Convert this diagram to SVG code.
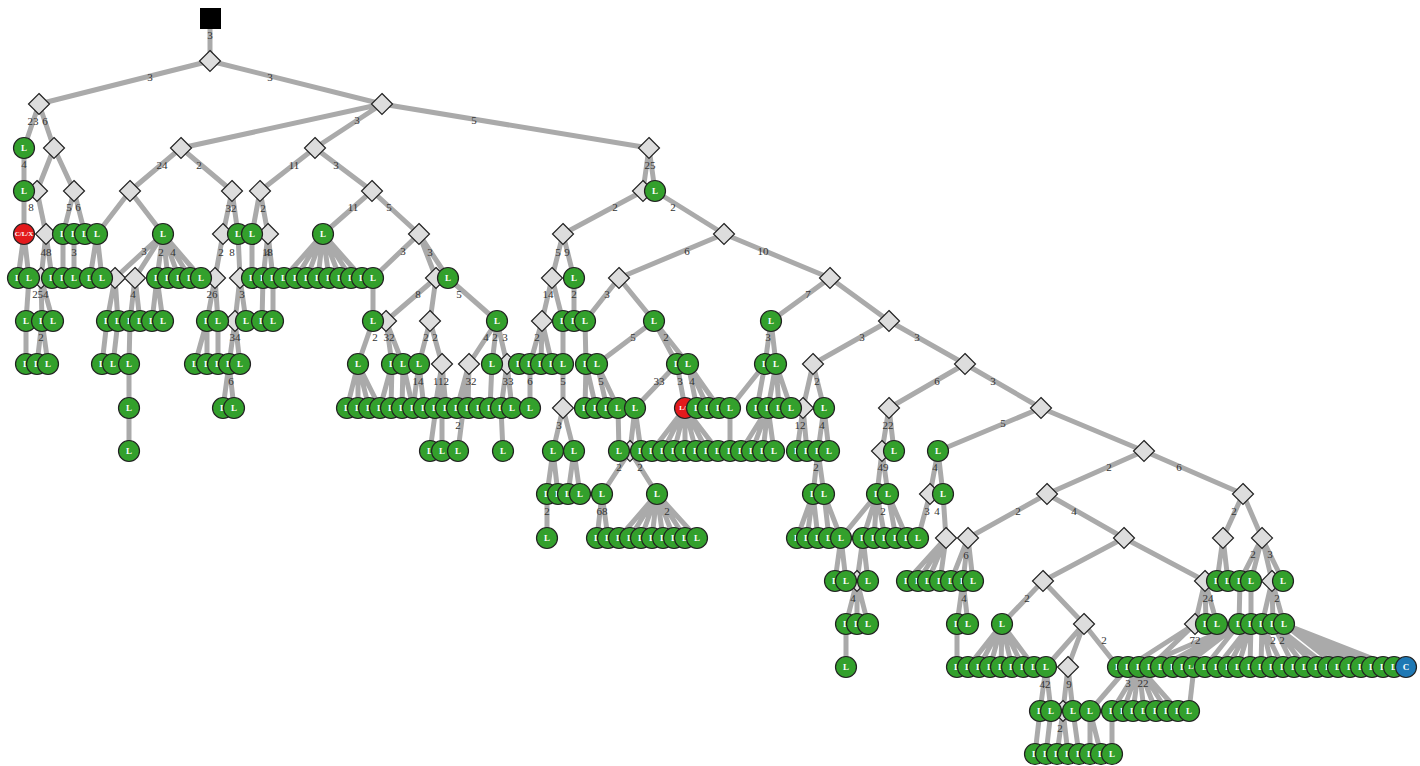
<svg xmlns="http://www.w3.org/2000/svg" xmlns:xlink="http://www.w3.org/1999/xlink" width="1420" height="766" viewBox="0 0 1420 766">
<style>
.e path{stroke:#aaaaaa;stroke-width:5;fill:none}
.d{fill:#dddddd;stroke:#222222;stroke-width:1.2}
.nd circle{stroke:#222222;stroke-width:1.2;fill:#33a02c}
.nd circle.r{fill:#e31a1c}
.nd circle.b{fill:#1f78b4}
.nd text{font-family:"Liberation Serif",serif;font-size:9px;font-weight:bold;fill:#ffffff;text-anchor:middle;dominant-baseline:central}
.nd text.s{font-size:7px}
.lb text{font-family:"Liberation Serif",serif;font-size:11px;fill:#333333;text-anchor:middle;dominant-baseline:central}
</style>
<defs><path id="dm" d="M0,-10.5L10.5,0L0,10.5L-10.5,0Z"/></defs>
<rect width="1420" height="766" fill="#ffffff"/>
<g id="connectors" class="e">
<path d="M210 18L210 61"/>
<path d="M210 61L39 104M210 61L382 104"/>
<path d="M39 104L24 148M39 104L54 148"/>
<path d="M382 104L181 148M382 104L315 148M382 104L649 148"/>
<path d="M24 148L24 191"/>
<path d="M54 148L37 191M54 148L74 191"/>
<path d="M181 148L130 191M181 148L232 191"/>
<path d="M315 148L260 191M315 148L372 191"/>
<path d="M649 148L643 191M649 148L655 191"/>
<path d="M24 191L24 234"/>
<path d="M37 191L46 234"/>
<path d="M74 191L63 234M74 191L85 234"/>
<path d="M130 191L97 234M130 191L163 234"/>
<path d="M232 191L223 234M232 191L238 234"/>
<path d="M260 191L252 234M260 191L268 234"/>
<path d="M372 191L323 234M372 191L419 234"/>
<path d="M643 191L563 234"/>
<path d="M655 191L724 234"/>
<path d="M24 234L18 278M24 234L29 278"/>
<path d="M46 234L41 278M46 234L52 278"/>
<path d="M63 234L63 278M74 234L74 278"/>
<path d="M97 234L90 278M97 234L102 278"/>
<path d="M163 234L115 278M163 234L135 278M163 234L157 278M163 234L168 278M163 234L179 278M163 234L190 278M163 234L201 278"/>
<path d="M223 234L215 278M238 234L240 278M252 234L252 278"/>
<path d="M268 234L263 278M268 234L273 278"/>
<path d="M323 234L284 278M323 234L296 278M323 234L307 278M323 234L318 278M323 234L329 278M323 234L340 278M323 234L351 278M323 234L362 278"/>
<path d="M419 234L373 278M419 234L436 278M419 234L448 278"/>
<path d="M563 234L552 278M563 234L574 278"/>
<path d="M724 234L619 278M724 234L830 278"/>
<path d="M29 278L26 321"/>
<path d="M41 278L42 321M41 278L53 321"/>
<path d="M115 278L107 321M115 278L118 321"/>
<path d="M135 278L130 321M135 278L140 321"/>
<path d="M157 278L152 321M157 278L163 321"/>
<path d="M215 278L207 321M215 278L218 321"/>
<path d="M240 278L235 321M240 278L246 321"/>
<path d="M263 278L262 321M273 278L273 321M373 278L373 321"/>
<path d="M436 278L386 321M436 278L430 321"/>
<path d="M448 278L497 321"/>
<path d="M552 278L542 321M552 278L563 321"/>
<path d="M574 278L574 321"/>
<path d="M619 278L585 321M619 278L654 321"/>
<path d="M830 278L771 321M830 278L889 321"/>
<path d="M26 321L26 364M42 321L37 364M42 321L48 364M107 321L102 364M118 321L113 364M130 321L129 364"/>
<path d="M207 321L195 364M207 321L207 364M218 321L218 364"/>
<path d="M235 321L229 364M235 321L240 364"/>
<path d="M373 321L358 364"/>
<path d="M386 321L392 364M386 321L403 364"/>
<path d="M430 321L419 364M430 321L442 364"/>
<path d="M497 321L469 364M497 321L492 364M497 321L507 364"/>
<path d="M542 321L530 364M542 321L541 364M542 321L552 364"/>
<path d="M563 321L563 408M585 321L586 364"/>
<path d="M654 321L597 364M654 321L677 364M654 321L688 364"/>
<path d="M771 321L765 364M771 321L776 364"/>
<path d="M889 321L813 364M889 321L965 364"/>
<path d="M129 364L129 408M129 408L129 451"/>
<path d="M229 364L223 408M229 364L234 408"/>
<path d="M358 364L347 408M358 364L358 408M358 364L369 408M358 364L380 408"/>
<path d="M392 364L380 408M392 364L391 408M403 364L402 408M403 364L413 408"/>
<path d="M419 364L413 408M419 364L424 408"/>
<path d="M442 364L435 408M442 364L446 408M442 364L430 451M442 364L442 451"/>
<path d="M469 364L457 408M469 364L468 408M469 364L458 451"/>
<path d="M492 364L490 408M507 364L501 408M507 364L512 408M501 408L503 451"/>
<path d="M530 364L530 408"/>
<path d="M586 364L585 408M586 364L596 408M597 364L607 408M597 364L618 408"/>
<path d="M677 364L635 408M677 364L685 408"/>
<path d="M688 364L697 408M688 364L708 408M688 364L719 408"/>
<path d="M765 364L730 408M765 364L757 408M776 364L768 408M776 364L779 408M776 364L791 408"/>
<path d="M813 364L803 408M813 364L824 408"/>
<path d="M965 364L889 408M965 364L1041 408"/>
<path d="M563 408L553 451M563 408L574 451"/>
<path d="M618 408L619 451M635 408L630 451M635 408L641 451"/>
<path d="M685 408L652 451M685 408L663 451M685 408L674 451M685 408L685 451M685 408L696 451M685 408L707 451M685 408L718 451"/>
<path d="M730 408L730 451"/>
<path d="M768 408L741 451M768 408L752 451M768 408L763 451M768 408L774 451"/>
<path d="M803 408L797 451M803 408L807 451M824 408L818 451M824 408L829 451"/>
<path d="M889 408L882 451M889 408L894 451"/>
<path d="M1041 408L938 451M1041 408L1144 451"/>
<path d="M553 451L547 494M553 451L558 494M574 451L568 494M574 451L580 494"/>
<path d="M630 451L602 494M630 451L657 494"/>
<path d="M818 451L813 494M818 451L824 494"/>
<path d="M882 451L877 494M882 451L888 494"/>
<path d="M938 451L930 494M938 451L943 494"/>
<path d="M1144 451L1047 494M1144 451L1243 494"/>
<path d="M547 494L547 538M602 494L597 538M602 494L608 538"/>
<path d="M657 494L619 538M657 494L630 538M657 494L641 538M657 494L652 538M657 494L663 538M657 494L674 538M657 494L685 538M657 494L697 538"/>
<path d="M813 494L797 538M813 494L807 538M813 494L818 538M824 494L829 538M824 494L841 538"/>
<path d="M877 494L841 538M877 494L863 538M877 494L874 538M877 494L885 538M888 494L896 538M888 494L907 538"/>
<path d="M930 494L918 538M943 494L946 538"/>
<path d="M1047 494L968 538M1047 494L1124 538"/>
<path d="M1243 494L1223 538M1243 494L1262 538"/>
<path d="M841 538L835 581M841 538L846 581M863 538L857 581M863 538L868 581"/>
<path d="M946 538L907 581M946 538L918 581M946 538L928 581M946 538L940 581"/>
<path d="M968 538L951 581M968 538L963 581M968 538L973 581"/>
<path d="M1124 538L1043 581M1124 538L1205 581"/>
<path d="M1223 538L1217 581M1223 538L1228 581"/>
<path d="M1262 538L1240 581M1262 538L1251 581M1262 538L1272 581M1262 538L1283 581"/>
<path d="M857 581L846 624M857 581L857 624M857 581L868 624"/>
<path d="M963 581L957 624M963 581L968 624"/>
<path d="M1043 581L1002 624M1043 581L1084 624"/>
<path d="M1205 581L1195 624M1205 581L1206 624M1205 581L1217 624"/>
<path d="M1240 581L1239 624M1251 581L1251 624"/>
<path d="M1272 581L1262 624M1272 581L1273 624M1272 581L1284 624"/>
<path d="M846 624L846 667M957 624L957 667"/>
<path d="M1002 624L968 667M1002 624L979 667M1002 624L990 667M1002 624L1001 667M1002 624L1012 667M1002 624L1023 667M1002 624L1034 667"/>
<path d="M1084 624L1046 667M1084 624L1068 667M1084 624L1118 667"/>
<path d="M1195 624L1128 667M1195 624L1150 667"/>
<path d="M1239 624L1139 667M1239 624L1161 667M1239 624L1173 667M1239 624L1183 667M1239 624L1205 667"/>
<path d="M1251 624L1217 667M1251 624L1228 667M1251 624L1238 667M1251 624L1250 667"/>
<path d="M1262 624L1261 667M1262 624L1272 667M1262 624L1283 667"/>
<path d="M1273 624L1294 667M1273 624L1305 667M1273 624L1317 667M1273 624L1328 667"/>
<path d="M1284 624L1338 667M1284 624L1350 667M1284 624L1361 667M1284 624L1372 667M1284 624L1383 667M1284 624L1394 667"/>
<path d="M1046 667L1040 711M1046 667L1051 711M1068 667L1063 711M1068 667L1073 711"/>
<path d="M1128 667L1090 711"/>
<path d="M1139 667L1112 711M1139 667L1123 711M1139 667L1133 711M1139 667L1144 711M1139 667L1156 711M1139 667L1167 711M1139 667L1178 711"/>
<path d="M1194 667L1189 711"/>
<path d="M1040 711L1035 754M1051 711L1046 754M1063 711L1057 754M1063 711L1068 754M1073 711L1079 754M1090 711L1090 754M1090 711L1101 754M1112 711L1112 754"/>
</g>
<g id="labels" class="lb">
<text x="210" y="35">3</text>
<text x="150" y="77">3</text><text x="270" y="77">3</text>
<text x="33" y="121">23</text><text x="45" y="121">6</text>
<text x="357" y="120">3</text><text x="474" y="120">5</text>
<text x="24" y="164">4</text><text x="162" y="165">24</text><text x="199" y="165">2</text>
<text x="294" y="165">11</text><text x="336" y="165">3</text><text x="650" y="165">25</text>
<text x="31" y="207">8</text><text x="69" y="207">5</text><text x="78" y="207">6</text>
<text x="231" y="208">32</text><text x="263" y="208">2</text>
<text x="353" y="207">11</text><text x="389" y="207">5</text>
<text x="615" y="207">2</text><text x="673" y="207">2</text>
<text x="46" y="252">48</text><text x="74" y="252">3</text>
<text x="144" y="251">3</text><text x="161" y="252">2</text><text x="173" y="252">4</text>
<text x="221" y="252">2</text><text x="232" y="252">8</text>
<text x="266" y="252" letter-spacing="-3">148</text>
<text x="403" y="251">3</text><text x="430" y="252">3</text>
<text x="558" y="252">5</text><text x="567" y="252">9</text>
<text x="687" y="251">6</text><text x="763" y="251">10</text>
<text x="35" y="294">2</text><text x="43" y="294">54</text>
<text x="133" y="294">4</text><text x="212" y="294">26</text><text x="242" y="294">3</text>
<text x="418" y="294">8</text><text x="459" y="294">5</text>
<text x="548" y="294">14</text><text x="574" y="294">2</text><text x="607" y="294">3</text>
<text x="808" y="294">7</text>
<text x="41" y="337">2</text><text x="235" y="337">34</text>
<text x="375" y="337">2</text><text x="389" y="337">32</text>
<text x="426" y="337">2</text><text x="435" y="337">2</text>
<text x="486" y="337">4</text><text x="495" y="337">2</text><text x="505" y="337">3</text>
<text x="537" y="337">2</text><text x="633" y="337">5</text><text x="666" y="337">2</text>
<text x="768" y="337">3</text><text x="862" y="337">3</text><text x="917" y="337">3</text>
<text x="231" y="381">6</text><text x="418" y="381">14</text><text x="441" y="381">112</text>
<text x="471" y="381">32</text><text x="508" y="381">33</text><text x="530" y="381">6</text>
<text x="563" y="381">5</text><text x="601" y="381">5</text>
<text x="659" y="381">33</text><text x="680" y="381">3</text><text x="692" y="381">4</text>
<text x="817" y="381">2</text><text x="937" y="381">6</text><text x="993" y="381">3</text>
<text x="458" y="425">2</text><text x="559" y="425">3</text>
<text x="800" y="425">12</text><text x="822" y="425">4</text><text x="888" y="425">22</text>
<text x="1003" y="423">5</text>
<text x="619" y="467">2</text><text x="640" y="467">2</text>
<text x="816" y="467">2</text><text x="883" y="467">49</text><text x="935" y="467">4</text>
<text x="1109" y="467">2</text><text x="1179" y="467">6</text>
<text x="547" y="511">2</text><text x="602" y="511">68</text><text x="667" y="511">2</text>
<text x="883" y="511">2</text><text x="927" y="511">3</text><text x="937" y="511">4</text>
<text x="1018" y="511">2</text><text x="1074" y="511">4</text><text x="1234" y="511">2</text>
<text x="966" y="555">6</text><text x="1253" y="554">2</text><text x="1270" y="554">3</text>
<text x="853" y="598">4</text><text x="964" y="598">4</text><text x="1027" y="598">2</text>
<text x="1208" y="598">24</text><text x="1277" y="598">2</text>
<text x="1104" y="640">2</text><text x="1195" y="640">72</text>
<text x="1273" y="640">2</text><text x="1282" y="640">2</text>
<text x="1045" y="684">42</text><text x="1069" y="684">9</text>
<text x="1128" y="683">3</text><text x="1143" y="683">22</text>
<text x="1060" y="728">2</text>
</g>
<g id="nodes" class="nd">
<g id="root"><rect x="200" y="8" width="21" height="21" fill="#000000"/></g>
<g id="d1" class="d"><use xlink:href="#dm" x="210" y="61"/></g>
<g id="d2" class="d"><use xlink:href="#dm" x="39" y="104"/></g>
<g id="d3" class="d"><use xlink:href="#dm" x="382" y="104"/></g>
<g id="d4" class="d"><use xlink:href="#dm" x="54" y="148"/></g>
<g id="d5" class="d"><use xlink:href="#dm" x="181" y="148"/></g>
<g id="d6" class="d"><use xlink:href="#dm" x="315" y="148"/></g>
<g id="d7" class="d"><use xlink:href="#dm" x="649" y="148"/></g>
<g id="d8" class="d"><use xlink:href="#dm" x="37" y="191"/></g>
<g id="d9" class="d"><use xlink:href="#dm" x="74" y="191"/></g>
<g id="d10" class="d"><use xlink:href="#dm" x="130" y="191"/></g>
<g id="d11" class="d"><use xlink:href="#dm" x="232" y="191"/></g>
<g id="d12" class="d"><use xlink:href="#dm" x="260" y="191"/></g>
<g id="d13" class="d"><use xlink:href="#dm" x="372" y="191"/></g>
<g id="d14" class="d"><use xlink:href="#dm" x="643" y="191"/></g>
<g id="d15" class="d"><use xlink:href="#dm" x="46" y="234"/></g>
<g id="d16" class="d"><use xlink:href="#dm" x="223" y="234"/></g>
<g id="d17" class="d"><use xlink:href="#dm" x="268" y="234"/></g>
<g id="d18" class="d"><use xlink:href="#dm" x="419" y="234"/></g>
<g id="d19" class="d"><use xlink:href="#dm" x="563" y="234"/></g>
<g id="d20" class="d"><use xlink:href="#dm" x="724" y="234"/></g>
<g id="d21" class="d"><use xlink:href="#dm" x="41" y="278"/></g>
<g id="d22" class="d"><use xlink:href="#dm" x="115" y="278"/></g>
<g id="d23" class="d"><use xlink:href="#dm" x="135" y="278"/></g>
<g id="d24" class="d"><use xlink:href="#dm" x="215" y="278"/></g>
<g id="d25" class="d"><use xlink:href="#dm" x="240" y="278"/></g>
<g id="d26" class="d"><use xlink:href="#dm" x="436" y="278"/></g>
<g id="d27" class="d"><use xlink:href="#dm" x="552" y="278"/></g>
<g id="d28" class="d"><use xlink:href="#dm" x="619" y="278"/></g>
<g id="d29" class="d"><use xlink:href="#dm" x="830" y="278"/></g>
<g id="d30" class="d"><use xlink:href="#dm" x="235" y="321"/></g>
<g id="d31" class="d"><use xlink:href="#dm" x="386" y="321"/></g>
<g id="d32" class="d"><use xlink:href="#dm" x="430" y="321"/></g>
<g id="d33" class="d"><use xlink:href="#dm" x="542" y="321"/></g>
<g id="d34" class="d"><use xlink:href="#dm" x="889" y="321"/></g>
<g id="d35" class="d"><use xlink:href="#dm" x="442" y="364"/></g>
<g id="d36" class="d"><use xlink:href="#dm" x="469" y="364"/></g>
<g id="d37" class="d"><use xlink:href="#dm" x="507" y="364"/></g>
<g id="d38" class="d"><use xlink:href="#dm" x="813" y="364"/></g>
<g id="d39" class="d"><use xlink:href="#dm" x="965" y="364"/></g>
<g id="d40" class="d"><use xlink:href="#dm" x="563" y="408"/></g>
<g id="d41" class="d"><use xlink:href="#dm" x="803" y="408"/></g>
<g id="d42" class="d"><use xlink:href="#dm" x="889" y="408"/></g>
<g id="d43" class="d"><use xlink:href="#dm" x="1041" y="408"/></g>
<g id="d44" class="d"><use xlink:href="#dm" x="630" y="451"/></g>
<g id="d45" class="d"><use xlink:href="#dm" x="882" y="451"/></g>
<g id="d46" class="d"><use xlink:href="#dm" x="1144" y="451"/></g>
<g id="d47" class="d"><use xlink:href="#dm" x="930" y="494"/></g>
<g id="d48" class="d"><use xlink:href="#dm" x="1047" y="494"/></g>
<g id="d49" class="d"><use xlink:href="#dm" x="1243" y="494"/></g>
<g id="d50" class="d"><use xlink:href="#dm" x="946" y="538"/></g>
<g id="d51" class="d"><use xlink:href="#dm" x="968" y="538"/></g>
<g id="d52" class="d"><use xlink:href="#dm" x="1124" y="538"/></g>
<g id="d53" class="d"><use xlink:href="#dm" x="1223" y="538"/></g>
<g id="d54" class="d"><use xlink:href="#dm" x="1262" y="538"/></g>
<g id="d55" class="d"><use xlink:href="#dm" x="857" y="581"/></g>
<g id="d56" class="d"><use xlink:href="#dm" x="1043" y="581"/></g>
<g id="d57" class="d"><use xlink:href="#dm" x="1205" y="581"/></g>
<g id="d58" class="d"><use xlink:href="#dm" x="1272" y="581"/></g>
<g id="d59" class="d"><use xlink:href="#dm" x="1084" y="624"/></g>
<g id="d60" class="d"><use xlink:href="#dm" x="1195" y="624"/></g>
<g id="d61" class="d"><use xlink:href="#dm" x="1068" y="667"/></g>
<g id="d62" class="d"><use xlink:href="#dm" x="1063" y="711"/></g>
<g id="c3a"><circle cx="24" cy="148" r="10.5"/><text x="24" y="148">L</text></g>
<g id="c4a"><circle cx="24" cy="191" r="10.5"/><text x="24" y="191">L</text></g>
<g id="c4b"><circle cx="655" cy="191" r="10.5"/><text x="655" y="191">L</text></g>
<g id="c5a"><circle class="r" cx="24" cy="234" r="10.5"/><text class="s" x="24" y="234">C/L/X</text></g>
<g id="c5b"><circle cx="63" cy="234" r="10.5"/><text x="63" y="234">L</text></g>
<g id="c5c"><circle cx="74" cy="234" r="10.5"/><text x="74" y="234">L</text></g>
<g id="c5d"><circle cx="85" cy="234" r="10.5"/><text x="85" y="234">L</text></g>
<g id="c5e"><circle cx="97" cy="234" r="10.5"/><text x="97" y="234">L</text></g>
<g id="c5f"><circle cx="163" cy="234" r="10.5"/><text x="163" y="234">L</text></g>
<g id="c5g"><circle cx="238" cy="234" r="10.5"/><text x="238" y="234">L</text></g>
<g id="c5h"><circle cx="252" cy="234" r="10.5"/><text x="252" y="234">L</text></g>
<g id="c5i"><circle cx="323" cy="234" r="10.5"/><text x="323" y="234">L</text></g>
<g id="c6a"><circle cx="18" cy="278" r="10.5"/><text x="18" y="278">L</text></g>
<g id="c6b"><circle cx="29" cy="278" r="10.5"/><text x="29" y="278">L</text></g>
<g id="c6c"><circle cx="52" cy="278" r="10.5"/><text x="52" y="278">L</text></g>
<g id="c6d"><circle cx="63" cy="278" r="10.5"/><text x="63" y="278">L</text></g>
<g id="c6e"><circle cx="74" cy="278" r="10.5"/><text x="74" y="278">L</text></g>
<g id="c6f"><circle cx="90" cy="278" r="10.5"/><text x="90" y="278">L</text></g>
<g id="c6g"><circle cx="102" cy="278" r="10.5"/><text x="102" y="278">L</text></g>
<g id="c6h"><circle cx="157" cy="278" r="10.5"/><text x="157" y="278">L</text></g>
<g id="c6i"><circle cx="168" cy="278" r="10.5"/><text x="168" y="278">L</text></g>
<g id="c6j"><circle cx="179" cy="278" r="10.5"/><text x="179" y="278">L</text></g>
<g id="c6k"><circle cx="190" cy="278" r="10.5"/><text x="190" y="278">L</text></g>
<g id="c6l"><circle cx="201" cy="278" r="10.5"/><text x="201" y="278">L</text></g>
<g id="c6m"><circle cx="252" cy="278" r="10.5"/><text x="252" y="278">L</text></g>
<g id="c6n"><circle cx="263" cy="278" r="10.5"/><text x="263" y="278">L</text></g>
<g id="c6o"><circle cx="273" cy="278" r="10.5"/><text x="273" y="278">L</text></g>
<g id="c6p"><circle cx="284" cy="278" r="10.5"/><text x="284" y="278">L</text></g>
<g id="c6q"><circle cx="296" cy="278" r="10.5"/><text x="296" y="278">L</text></g>
<g id="c6r"><circle cx="307" cy="278" r="10.5"/><text x="307" y="278">L</text></g>
<g id="c6s"><circle cx="318" cy="278" r="10.5"/><text x="318" y="278">L</text></g>
<g id="c6t"><circle cx="329" cy="278" r="10.5"/><text x="329" y="278">L</text></g>
<g id="c6u"><circle cx="340" cy="278" r="10.5"/><text x="340" y="278">L</text></g>
<g id="c6v"><circle cx="351" cy="278" r="10.5"/><text x="351" y="278">L</text></g>
<g id="c6w"><circle cx="362" cy="278" r="10.5"/><text x="362" y="278">L</text></g>
<g id="c6x"><circle cx="373" cy="278" r="10.5"/><text x="373" y="278">L</text></g>
<g id="c6y"><circle cx="448" cy="278" r="10.5"/><text x="448" y="278">L</text></g>
<g id="c6z"><circle cx="574" cy="278" r="10.5"/><text x="574" y="278">L</text></g>
<g id="c7a"><circle cx="26" cy="321" r="10.5"/><text x="26" y="321">L</text></g>
<g id="c7b"><circle cx="42" cy="321" r="10.5"/><text x="42" y="321">L</text></g>
<g id="c7c"><circle cx="53" cy="321" r="10.5"/><text x="53" y="321">L</text></g>
<g id="c7d"><circle cx="107" cy="321" r="10.5"/><text x="107" y="321">L</text></g>
<g id="c7e"><circle cx="118" cy="321" r="10.5"/><text x="118" y="321">L</text></g>
<g id="c7f"><circle cx="130" cy="321" r="10.5"/><text x="130" y="321">L</text></g>
<g id="c7g"><circle cx="140" cy="321" r="10.5"/><text x="140" y="321">L</text></g>
<g id="c7h"><circle cx="152" cy="321" r="10.5"/><text x="152" y="321">L</text></g>
<g id="c7i"><circle cx="163" cy="321" r="10.5"/><text x="163" y="321">L</text></g>
<g id="c7j"><circle cx="207" cy="321" r="10.5"/><text x="207" y="321">L</text></g>
<g id="c7k"><circle cx="218" cy="321" r="10.5"/><text x="218" y="321">L</text></g>
<g id="c7l"><circle cx="246" cy="321" r="10.5"/><text x="246" y="321">L</text></g>
<g id="c7m"><circle cx="262" cy="321" r="10.5"/><text x="262" y="321">L</text></g>
<g id="c7n"><circle cx="273" cy="321" r="10.5"/><text x="273" y="321">L</text></g>
<g id="c7o"><circle cx="373" cy="321" r="10.5"/><text x="373" y="321">L</text></g>
<g id="c7p"><circle cx="497" cy="321" r="10.5"/><text x="497" y="321">L</text></g>
<g id="c7q"><circle cx="563" cy="321" r="10.5"/><text x="563" y="321">L</text></g>
<g id="c7r"><circle cx="574" cy="321" r="10.5"/><text x="574" y="321">L</text></g>
<g id="c7s"><circle cx="585" cy="321" r="10.5"/><text x="585" y="321">L</text></g>
<g id="c7t"><circle cx="654" cy="321" r="10.5"/><text x="654" y="321">L</text></g>
<g id="c7u"><circle cx="771" cy="321" r="10.5"/><text x="771" y="321">L</text></g>
<g id="c8a"><circle cx="26" cy="364" r="10.5"/><text x="26" y="364">L</text></g>
<g id="c8b"><circle cx="37" cy="364" r="10.5"/><text x="37" y="364">L</text></g>
<g id="c8c"><circle cx="48" cy="364" r="10.5"/><text x="48" y="364">L</text></g>
<g id="c8d"><circle cx="102" cy="364" r="10.5"/><text x="102" y="364">L</text></g>
<g id="c8e"><circle cx="113" cy="364" r="10.5"/><text x="113" y="364">L</text></g>
<g id="c8f"><circle cx="129" cy="364" r="10.5"/><text x="129" y="364">L</text></g>
<g id="c8g"><circle cx="195" cy="364" r="10.5"/><text x="195" y="364">L</text></g>
<g id="c8h"><circle cx="207" cy="364" r="10.5"/><text x="207" y="364">L</text></g>
<g id="c8i"><circle cx="218" cy="364" r="10.5"/><text x="218" y="364">L</text></g>
<g id="c8j"><circle cx="229" cy="364" r="10.5"/><text x="229" y="364">L</text></g>
<g id="c8k"><circle cx="240" cy="364" r="10.5"/><text x="240" y="364">L</text></g>
<g id="c8l"><circle cx="358" cy="364" r="10.5"/><text x="358" y="364">L</text></g>
<g id="c8m"><circle cx="392" cy="364" r="10.5"/><text x="392" y="364">L</text></g>
<g id="c8n"><circle cx="403" cy="364" r="10.5"/><text x="403" y="364">L</text></g>
<g id="c8o"><circle cx="419" cy="364" r="10.5"/><text x="419" y="364">L</text></g>
<g id="c8p"><circle cx="492" cy="364" r="10.5"/><text x="492" y="364">L</text></g>
<g id="c8q"><circle cx="519" cy="364" r="10.5"/><text x="519" y="364">L</text></g>
<g id="c8r"><circle cx="530" cy="364" r="10.5"/><text x="530" y="364">L</text></g>
<g id="c8s"><circle cx="541" cy="364" r="10.5"/><text x="541" y="364">L</text></g>
<g id="c8t"><circle cx="552" cy="364" r="10.5"/><text x="552" y="364">L</text></g>
<g id="c8u"><circle cx="563" cy="364" r="10.5"/><text x="563" y="364">L</text></g>
<g id="c8v"><circle cx="586" cy="364" r="10.5"/><text x="586" y="364">L</text></g>
<g id="c8w"><circle cx="597" cy="364" r="10.5"/><text x="597" y="364">L</text></g>
<g id="c8x"><circle cx="677" cy="364" r="10.5"/><text x="677" y="364">L</text></g>
<g id="c8y"><circle cx="688" cy="364" r="10.5"/><text x="688" y="364">L</text></g>
<g id="c8z"><circle cx="765" cy="364" r="10.5"/><text x="765" y="364">L</text></g>
<g id="c8z2"><circle cx="776" cy="364" r="10.5"/><text x="776" y="364">L</text></g>
<g id="c9a"><circle cx="129" cy="408" r="10.5"/><text x="129" y="408">L</text></g>
<g id="c9b"><circle cx="223" cy="408" r="10.5"/><text x="223" y="408">L</text></g>
<g id="c9c"><circle cx="234" cy="408" r="10.5"/><text x="234" y="408">L</text></g>
<g id="c9d"><circle cx="347" cy="408" r="10.5"/><text x="347" y="408">L</text></g>
<g id="c9e"><circle cx="358" cy="408" r="10.5"/><text x="358" y="408">L</text></g>
<g id="c9f"><circle cx="369" cy="408" r="10.5"/><text x="369" y="408">L</text></g>
<g id="c9g"><circle cx="380" cy="408" r="10.5"/><text x="380" y="408">L</text></g>
<g id="c9h"><circle cx="391" cy="408" r="10.5"/><text x="391" y="408">L</text></g>
<g id="c9i"><circle cx="402" cy="408" r="10.5"/><text x="402" y="408">L</text></g>
<g id="c9j"><circle cx="413" cy="408" r="10.5"/><text x="413" y="408">L</text></g>
<g id="c9k"><circle cx="424" cy="408" r="10.5"/><text x="424" y="408">L</text></g>
<g id="c9l"><circle cx="435" cy="408" r="10.5"/><text x="435" y="408">L</text></g>
<g id="c9m"><circle cx="446" cy="408" r="10.5"/><text x="446" y="408">L</text></g>
<g id="c9n"><circle cx="457" cy="408" r="10.5"/><text x="457" y="408">L</text></g>
<g id="c9o"><circle cx="468" cy="408" r="10.5"/><text x="468" y="408">L</text></g>
<g id="c9p"><circle cx="479" cy="408" r="10.5"/><text x="479" y="408">L</text></g>
<g id="c9q"><circle cx="490" cy="408" r="10.5"/><text x="490" y="408">L</text></g>
<g id="c9r"><circle cx="501" cy="408" r="10.5"/><text x="501" y="408">L</text></g>
<g id="c9s"><circle cx="512" cy="408" r="10.5"/><text x="512" y="408">L</text></g>
<g id="c9t"><circle cx="530" cy="408" r="10.5"/><text x="530" y="408">L</text></g>
<g id="c9u"><circle cx="585" cy="408" r="10.5"/><text x="585" y="408">L</text></g>
<g id="c9v"><circle cx="596" cy="408" r="10.5"/><text x="596" y="408">L</text></g>
<g id="c9w"><circle cx="607" cy="408" r="10.5"/><text x="607" y="408">L</text></g>
<g id="c9x"><circle cx="618" cy="408" r="10.5"/><text x="618" y="408">L</text></g>
<g id="c9y"><circle cx="635" cy="408" r="10.5"/><text x="635" y="408">L</text></g>
<g id="c9z"><circle class="r" cx="685" cy="408" r="10.5"/><text class="s" x="685" y="408">L/X</text></g>
<g id="c9A"><circle cx="697" cy="408" r="10.5"/><text x="697" y="408">L</text></g>
<g id="c9B"><circle cx="708" cy="408" r="10.5"/><text x="708" y="408">L</text></g>
<g id="c9C"><circle cx="719" cy="408" r="10.5"/><text x="719" y="408">L</text></g>
<g id="c9D"><circle cx="730" cy="408" r="10.5"/><text x="730" y="408">L</text></g>
<g id="c9E"><circle cx="757" cy="408" r="10.5"/><text x="757" y="408">L</text></g>
<g id="c9F"><circle cx="768" cy="408" r="10.5"/><text x="768" y="408">L</text></g>
<g id="c9G"><circle cx="779" cy="408" r="10.5"/><text x="779" y="408">L</text></g>
<g id="c9H"><circle cx="791" cy="408" r="10.5"/><text x="791" y="408">L</text></g>
<g id="c9I"><circle cx="824" cy="408" r="10.5"/><text x="824" y="408">L</text></g>
<g id="c10a"><circle cx="129" cy="451" r="10.5"/><text x="129" y="451">L</text></g>
<g id="c10b"><circle cx="430" cy="451" r="10.5"/><text x="430" y="451">L</text></g>
<g id="c10c"><circle cx="442" cy="451" r="10.5"/><text x="442" y="451">L</text></g>
<g id="c10d"><circle cx="458" cy="451" r="10.5"/><text x="458" y="451">L</text></g>
<g id="c10e"><circle cx="503" cy="451" r="10.5"/><text x="503" y="451">L</text></g>
<g id="c10f"><circle cx="553" cy="451" r="10.5"/><text x="553" y="451">L</text></g>
<g id="c10g"><circle cx="574" cy="451" r="10.5"/><text x="574" y="451">L</text></g>
<g id="c10h"><circle cx="619" cy="451" r="10.5"/><text x="619" y="451">L</text></g>
<g id="c10i"><circle cx="641" cy="451" r="10.5"/><text x="641" y="451">L</text></g>
<g id="c10j"><circle cx="652" cy="451" r="10.5"/><text x="652" y="451">L</text></g>
<g id="c10k"><circle cx="663" cy="451" r="10.5"/><text x="663" y="451">L</text></g>
<g id="c10l"><circle cx="674" cy="451" r="10.5"/><text x="674" y="451">L</text></g>
<g id="c10m"><circle cx="685" cy="451" r="10.5"/><text x="685" y="451">L</text></g>
<g id="c10n"><circle cx="696" cy="451" r="10.5"/><text x="696" y="451">L</text></g>
<g id="c10o"><circle cx="707" cy="451" r="10.5"/><text x="707" y="451">L</text></g>
<g id="c10p"><circle cx="718" cy="451" r="10.5"/><text x="718" y="451">L</text></g>
<g id="c10q"><circle cx="730" cy="451" r="10.5"/><text x="730" y="451">L</text></g>
<g id="c10r"><circle cx="741" cy="451" r="10.5"/><text x="741" y="451">L</text></g>
<g id="c10s"><circle cx="752" cy="451" r="10.5"/><text x="752" y="451">L</text></g>
<g id="c10t"><circle cx="763" cy="451" r="10.5"/><text x="763" y="451">L</text></g>
<g id="c10u"><circle cx="774" cy="451" r="10.5"/><text x="774" y="451">L</text></g>
<g id="c10v"><circle cx="797" cy="451" r="10.5"/><text x="797" y="451">L</text></g>
<g id="c10w"><circle cx="807" cy="451" r="10.5"/><text x="807" y="451">L</text></g>
<g id="c10x"><circle cx="818" cy="451" r="10.5"/><text x="818" y="451">L</text></g>
<g id="c10y"><circle cx="829" cy="451" r="10.5"/><text x="829" y="451">L</text></g>
<g id="c10z"><circle cx="894" cy="451" r="10.5"/><text x="894" y="451">L</text></g>
<g id="c10A"><circle cx="938" cy="451" r="10.5"/><text x="938" y="451">L</text></g>
<g id="c11a"><circle cx="547" cy="494" r="10.5"/><text x="547" y="494">L</text></g>
<g id="c11b"><circle cx="558" cy="494" r="10.5"/><text x="558" y="494">L</text></g>
<g id="c11c"><circle cx="568" cy="494" r="10.5"/><text x="568" y="494">L</text></g>
<g id="c11d"><circle cx="580" cy="494" r="10.5"/><text x="580" y="494">L</text></g>
<g id="c11e"><circle cx="602" cy="494" r="10.5"/><text x="602" y="494">L</text></g>
<g id="c11f"><circle cx="657" cy="494" r="10.5"/><text x="657" y="494">L</text></g>
<g id="c11g"><circle cx="813" cy="494" r="10.5"/><text x="813" y="494">L</text></g>
<g id="c11h"><circle cx="824" cy="494" r="10.5"/><text x="824" y="494">L</text></g>
<g id="c11i"><circle cx="877" cy="494" r="10.5"/><text x="877" y="494">L</text></g>
<g id="c11j"><circle cx="888" cy="494" r="10.5"/><text x="888" y="494">L</text></g>
<g id="c11k"><circle cx="943" cy="494" r="10.5"/><text x="943" y="494">L</text></g>
<g id="c12a"><circle cx="547" cy="538" r="10.5"/><text x="547" y="538">L</text></g>
<g id="c12b"><circle cx="597" cy="538" r="10.5"/><text x="597" y="538">L</text></g>
<g id="c12c"><circle cx="608" cy="538" r="10.5"/><text x="608" y="538">L</text></g>
<g id="c12d"><circle cx="619" cy="538" r="10.5"/><text x="619" y="538">L</text></g>
<g id="c12e"><circle cx="630" cy="538" r="10.5"/><text x="630" y="538">L</text></g>
<g id="c12f"><circle cx="641" cy="538" r="10.5"/><text x="641" y="538">L</text></g>
<g id="c12g"><circle cx="652" cy="538" r="10.5"/><text x="652" y="538">L</text></g>
<g id="c12h"><circle cx="663" cy="538" r="10.5"/><text x="663" y="538">L</text></g>
<g id="c12i"><circle cx="674" cy="538" r="10.5"/><text x="674" y="538">L</text></g>
<g id="c12j"><circle cx="685" cy="538" r="10.5"/><text x="685" y="538">L</text></g>
<g id="c12k"><circle cx="697" cy="538" r="10.5"/><text x="697" y="538">L</text></g>
<g id="c12l"><circle cx="797" cy="538" r="10.5"/><text x="797" y="538">L</text></g>
<g id="c12m"><circle cx="807" cy="538" r="10.5"/><text x="807" y="538">L</text></g>
<g id="c12n"><circle cx="818" cy="538" r="10.5"/><text x="818" y="538">L</text></g>
<g id="c12o"><circle cx="829" cy="538" r="10.5"/><text x="829" y="538">L</text></g>
<g id="c12p"><circle cx="841" cy="538" r="10.5"/><text x="841" y="538">L</text></g>
<g id="c12q"><circle cx="863" cy="538" r="10.5"/><text x="863" y="538">L</text></g>
<g id="c12r"><circle cx="874" cy="538" r="10.5"/><text x="874" y="538">L</text></g>
<g id="c12s"><circle cx="885" cy="538" r="10.5"/><text x="885" y="538">L</text></g>
<g id="c12t"><circle cx="896" cy="538" r="10.5"/><text x="896" y="538">L</text></g>
<g id="c12u"><circle cx="907" cy="538" r="10.5"/><text x="907" y="538">L</text></g>
<g id="c12v"><circle cx="918" cy="538" r="10.5"/><text x="918" y="538">L</text></g>
<g id="c13a"><circle cx="835" cy="581" r="10.5"/><text x="835" y="581">L</text></g>
<g id="c13b"><circle cx="846" cy="581" r="10.5"/><text x="846" y="581">L</text></g>
<g id="c13c"><circle cx="868" cy="581" r="10.5"/><text x="868" y="581">L</text></g>
<g id="c13d"><circle cx="907" cy="581" r="10.5"/><text x="907" y="581">L</text></g>
<g id="c13e"><circle cx="918" cy="581" r="10.5"/><text x="918" y="581">L</text></g>
<g id="c13f"><circle cx="928" cy="581" r="10.5"/><text x="928" y="581">L</text></g>
<g id="c13g"><circle cx="940" cy="581" r="10.5"/><text x="940" y="581">L</text></g>
<g id="c13h"><circle cx="951" cy="581" r="10.5"/><text x="951" y="581">L</text></g>
<g id="c13i"><circle cx="963" cy="581" r="10.5"/><text x="963" y="581">L</text></g>
<g id="c13j"><circle cx="973" cy="581" r="10.5"/><text x="973" y="581">L</text></g>
<g id="c13k"><circle cx="1217" cy="581" r="10.5"/><text x="1217" y="581">L</text></g>
<g id="c13l"><circle cx="1228" cy="581" r="10.5"/><text x="1228" y="581">L</text></g>
<g id="c13m"><circle cx="1240" cy="581" r="10.5"/><text x="1240" y="581">L</text></g>
<g id="c13n"><circle cx="1251" cy="581" r="10.5"/><text x="1251" y="581">L</text></g>
<g id="c13o"><circle cx="1283" cy="581" r="10.5"/><text x="1283" y="581">L</text></g>
<g id="c14a"><circle cx="846" cy="624" r="10.5"/><text x="846" y="624">L</text></g>
<g id="c14b"><circle cx="857" cy="624" r="10.5"/><text x="857" y="624">L</text></g>
<g id="c14c"><circle cx="868" cy="624" r="10.5"/><text x="868" y="624">L</text></g>
<g id="c14d"><circle cx="957" cy="624" r="10.5"/><text x="957" y="624">L</text></g>
<g id="c14e"><circle cx="968" cy="624" r="10.5"/><text x="968" y="624">L</text></g>
<g id="c14f"><circle cx="1002" cy="624" r="10.5"/><text x="1002" y="624">L</text></g>
<g id="c14g"><circle cx="1206" cy="624" r="10.5"/><text x="1206" y="624">L</text></g>
<g id="c14h"><circle cx="1217" cy="624" r="10.5"/><text x="1217" y="624">L</text></g>
<g id="c14i"><circle cx="1239" cy="624" r="10.5"/><text x="1239" y="624">L</text></g>
<g id="c14j"><circle cx="1251" cy="624" r="10.5"/><text x="1251" y="624">L</text></g>
<g id="c14k"><circle cx="1262" cy="624" r="10.5"/><text x="1262" y="624">L</text></g>
<g id="c14l"><circle cx="1273" cy="624" r="10.5"/><text x="1273" y="624">L</text></g>
<g id="c14m"><circle cx="1284" cy="624" r="10.5"/><text x="1284" y="624">L</text></g>
<g id="c15a"><circle cx="846" cy="667" r="10.5"/><text x="846" y="667">L</text></g>
<g id="c15b"><circle cx="957" cy="667" r="10.5"/><text x="957" y="667">L</text></g>
<g id="c15c"><circle cx="968" cy="667" r="10.5"/><text x="968" y="667">L</text></g>
<g id="c15d"><circle cx="979" cy="667" r="10.5"/><text x="979" y="667">L</text></g>
<g id="c15e"><circle cx="990" cy="667" r="10.5"/><text x="990" y="667">L</text></g>
<g id="c15f"><circle cx="1001" cy="667" r="10.5"/><text x="1001" y="667">L</text></g>
<g id="c15g"><circle cx="1012" cy="667" r="10.5"/><text x="1012" y="667">L</text></g>
<g id="c15h"><circle cx="1023" cy="667" r="10.5"/><text x="1023" y="667">L</text></g>
<g id="c15i"><circle cx="1034" cy="667" r="10.5"/><text x="1034" y="667">L</text></g>
<g id="c15j"><circle cx="1046" cy="667" r="10.5"/><text x="1046" y="667">L</text></g>
<g id="c15k"><circle cx="1118" cy="667" r="10.5"/><text x="1118" y="667">L</text></g>
<g id="c15l"><circle cx="1128" cy="667" r="10.5"/><text x="1128" y="667">L</text></g>
<g id="c15m"><circle cx="1139" cy="667" r="10.5"/><text x="1139" y="667">L</text></g>
<g id="c15n"><circle cx="1150" cy="667" r="10.5"/><text x="1150" y="667">L</text></g>
<g id="c15o"><circle cx="1161" cy="667" r="10.5"/><text x="1161" y="667">L</text></g>
<g id="c15p"><circle cx="1173" cy="667" r="10.5"/><text x="1173" y="667">L</text></g>
<g id="c15q"><circle cx="1183" cy="667" r="10.5"/><text x="1183" y="667">L</text></g>
<g id="c15r"><circle cx="1194" cy="667" r="10.5"/><text class="s" x="1194" y="667">L/X</text></g>
<g id="c15s"><circle cx="1205" cy="667" r="10.5"/><text x="1205" y="667">L</text></g>
<g id="c15t"><circle cx="1217" cy="667" r="10.5"/><text x="1217" y="667">L</text></g>
<g id="c15u"><circle cx="1228" cy="667" r="10.5"/><text x="1228" y="667">L</text></g>
<g id="c15v"><circle cx="1238" cy="667" r="10.5"/><text x="1238" y="667">L</text></g>
<g id="c15w"><circle cx="1250" cy="667" r="10.5"/><text x="1250" y="667">L</text></g>
<g id="c15x"><circle cx="1261" cy="667" r="10.5"/><text x="1261" y="667">L</text></g>
<g id="c15y"><circle cx="1272" cy="667" r="10.5"/><text x="1272" y="667">L</text></g>
<g id="c15z"><circle cx="1283" cy="667" r="10.5"/><text x="1283" y="667">L</text></g>
<g id="c15A"><circle cx="1294" cy="667" r="10.5"/><text x="1294" y="667">L</text></g>
<g id="c15B"><circle cx="1305" cy="667" r="10.5"/><text x="1305" y="667">L</text></g>
<g id="c15C"><circle cx="1317" cy="667" r="10.5"/><text x="1317" y="667">L</text></g>
<g id="c15D"><circle cx="1328" cy="667" r="10.5"/><text x="1328" y="667">L</text></g>
<g id="c15E"><circle cx="1338" cy="667" r="10.5"/><text x="1338" y="667">L</text></g>
<g id="c15F"><circle cx="1350" cy="667" r="10.5"/><text x="1350" y="667">L</text></g>
<g id="c15G"><circle cx="1361" cy="667" r="10.5"/><text x="1361" y="667">L</text></g>
<g id="c15H"><circle cx="1372" cy="667" r="10.5"/><text x="1372" y="667">L</text></g>
<g id="c15I"><circle cx="1383" cy="667" r="10.5"/><text x="1383" y="667">L</text></g>
<g id="c15J"><circle cx="1394" cy="667" r="10.5"/><text x="1394" y="667">L</text></g>
<g id="c15K"><circle class="b" cx="1406" cy="667" r="10.5"/><text x="1406" y="667">C</text></g>
<g id="c16a"><circle cx="1040" cy="711" r="10.5"/><text x="1040" y="711">L</text></g>
<g id="c16b"><circle cx="1051" cy="711" r="10.5"/><text x="1051" y="711">L</text></g>
<g id="c16c"><circle cx="1073" cy="711" r="10.5"/><text x="1073" y="711">L</text></g>
<g id="c16d"><circle cx="1090" cy="711" r="10.5"/><text x="1090" y="711">L</text></g>
<g id="c16e"><circle cx="1112" cy="711" r="10.5"/><text x="1112" y="711">L</text></g>
<g id="c16f"><circle cx="1123" cy="711" r="10.5"/><text x="1123" y="711">L</text></g>
<g id="c16g"><circle cx="1133" cy="711" r="10.5"/><text x="1133" y="711">L</text></g>
<g id="c16h"><circle cx="1144" cy="711" r="10.5"/><text x="1144" y="711">L</text></g>
<g id="c16i"><circle cx="1156" cy="711" r="10.5"/><text x="1156" y="711">L</text></g>
<g id="c16j"><circle cx="1167" cy="711" r="10.5"/><text x="1167" y="711">L</text></g>
<g id="c16k"><circle cx="1178" cy="711" r="10.5"/><text x="1178" y="711">L</text></g>
<g id="c16l"><circle cx="1189" cy="711" r="10.5"/><text x="1189" y="711">L</text></g>
<g id="c17a"><circle cx="1035" cy="754" r="10.5"/><text x="1035" y="754">L</text></g>
<g id="c17b"><circle cx="1046" cy="754" r="10.5"/><text x="1046" y="754">L</text></g>
<g id="c17c"><circle cx="1057" cy="754" r="10.5"/><text x="1057" y="754">L</text></g>
<g id="c17d"><circle cx="1068" cy="754" r="10.5"/><text x="1068" y="754">L</text></g>
<g id="c17e"><circle cx="1079" cy="754" r="10.5"/><text x="1079" y="754">L</text></g>
<g id="c17f"><circle cx="1090" cy="754" r="10.5"/><text x="1090" y="754">L</text></g>
<g id="c17g"><circle cx="1101" cy="754" r="10.5"/><text x="1101" y="754">L</text></g>
<g id="c17h"><circle cx="1112" cy="754" r="10.5"/><text x="1112" y="754">L</text></g>
</g>
</svg>
